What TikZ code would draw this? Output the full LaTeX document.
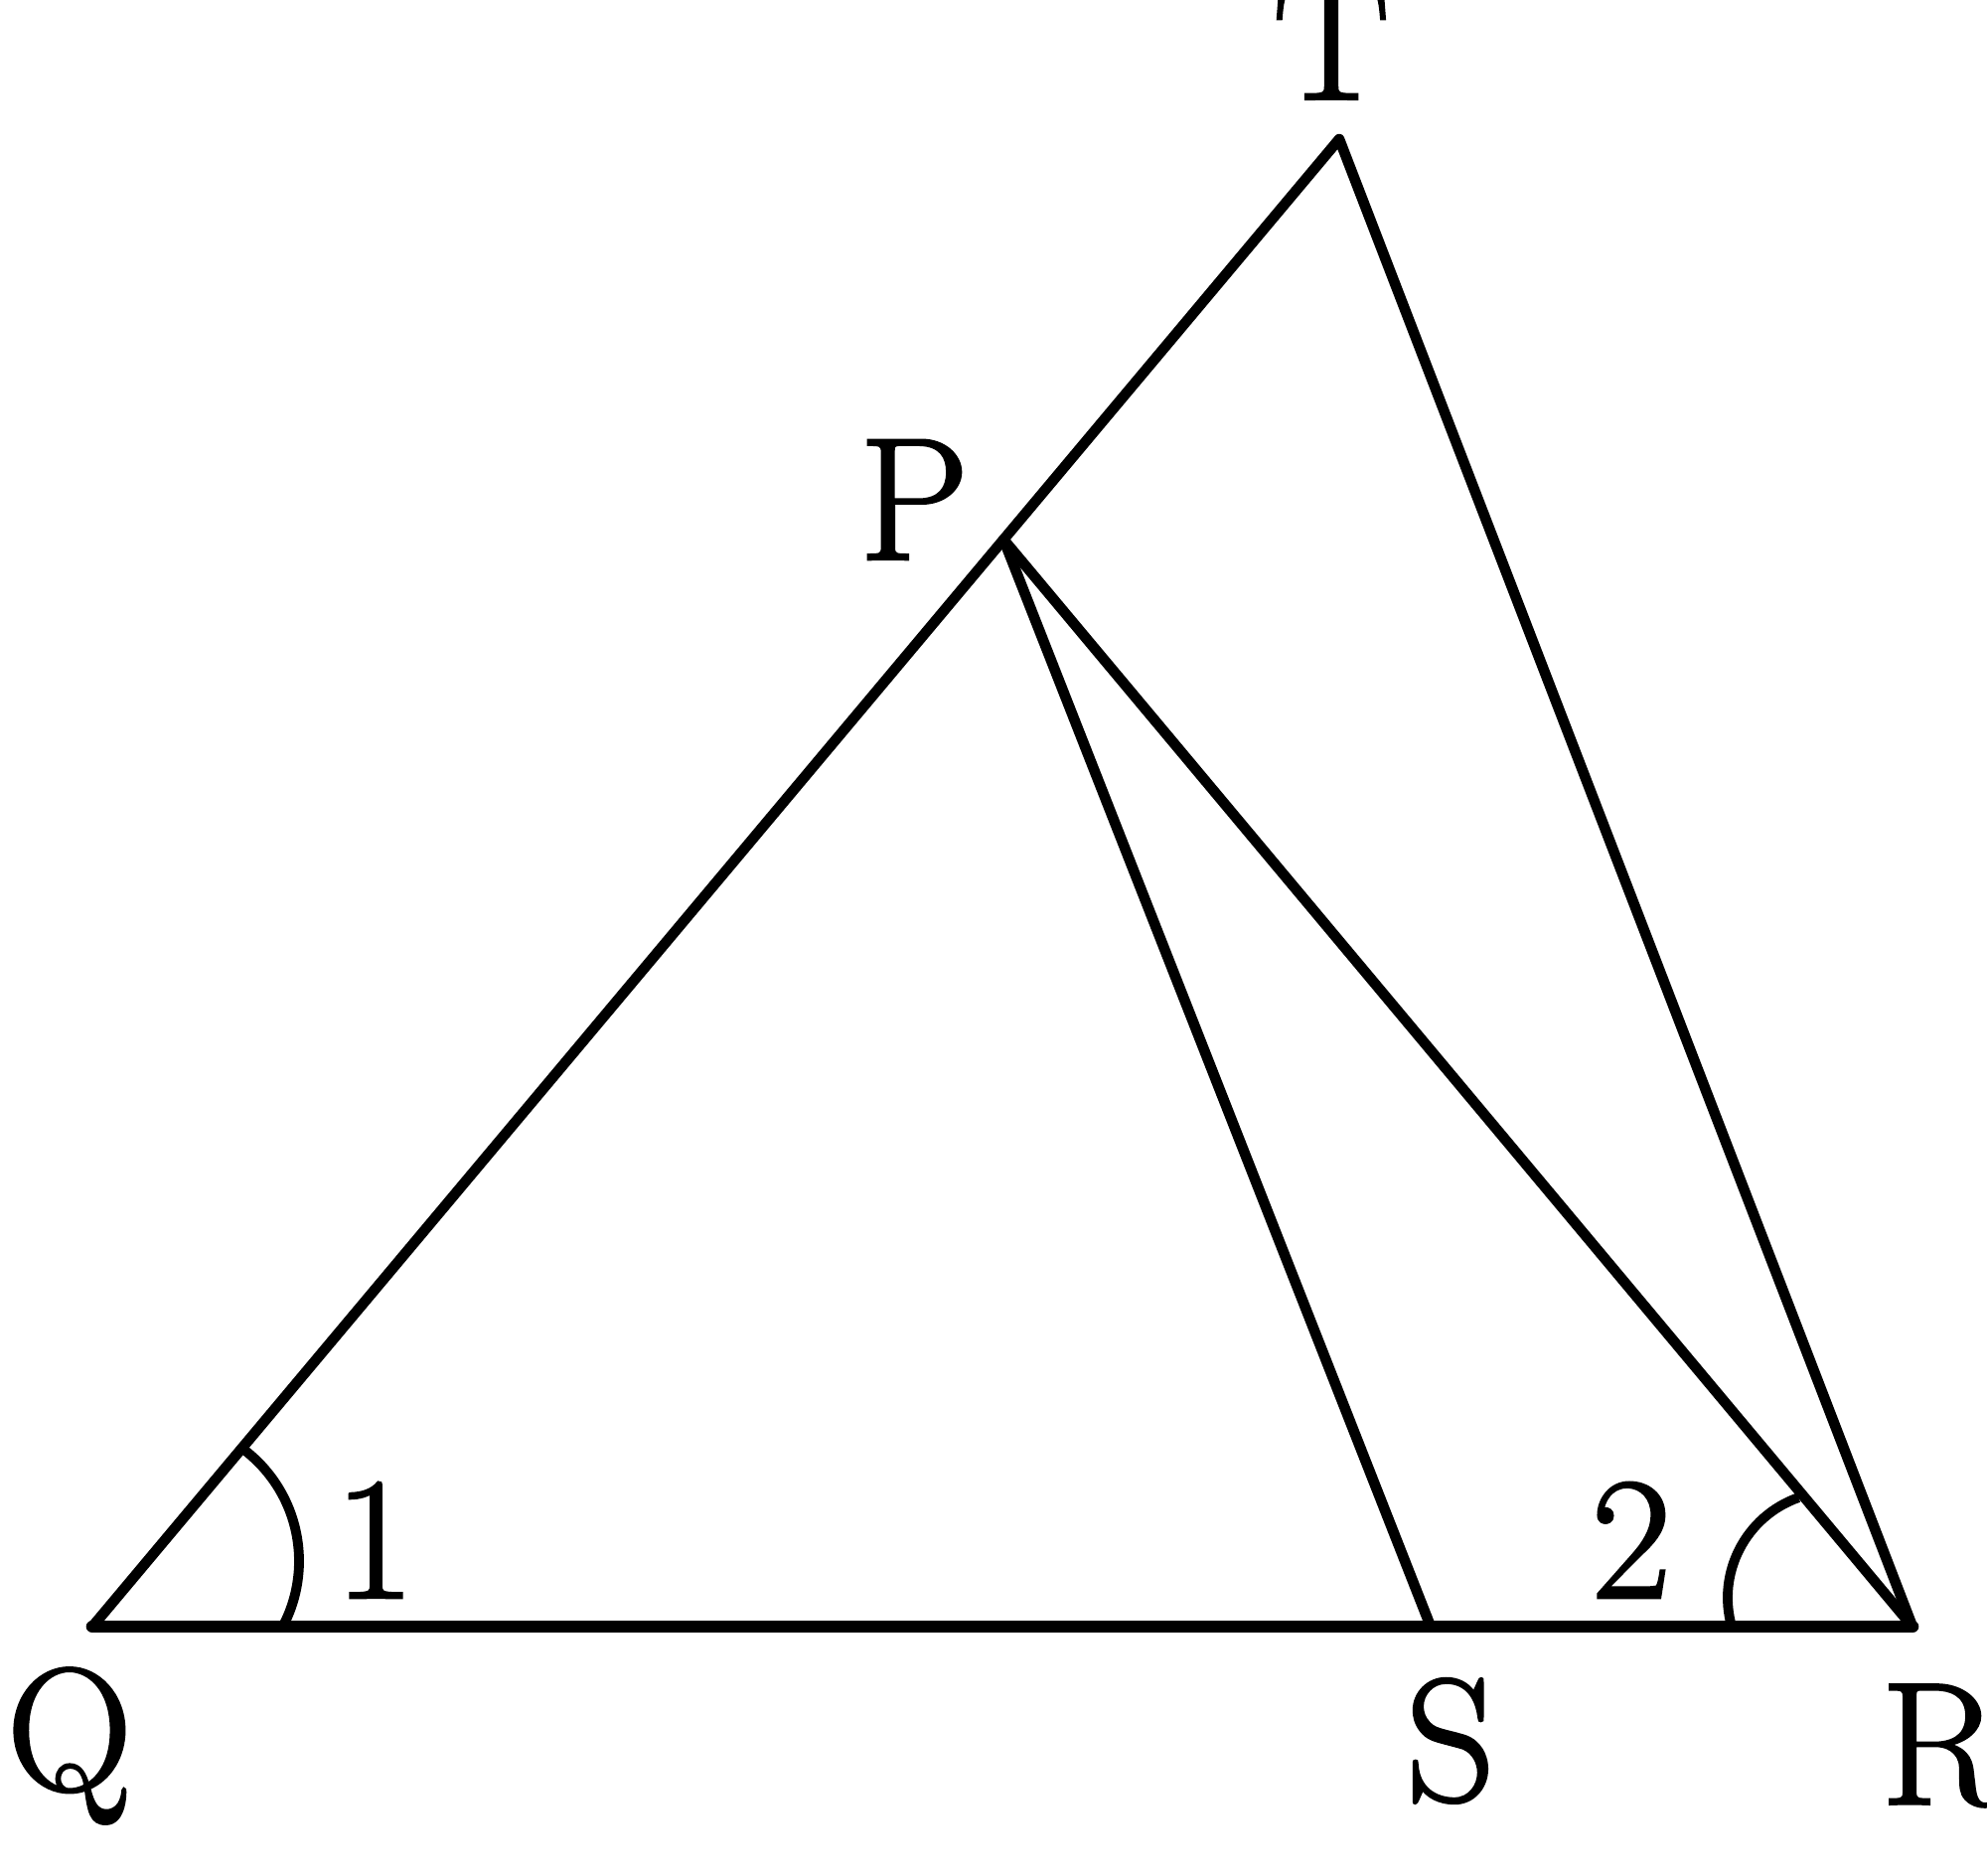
\documentclass[tikz,border=0pt]{standalone}
\usepackage{fontspec}
\newfontfamily\lblfont{Latin Modern Roman}[FakeBold=1.6]
\usetikzlibrary{calc}
\begin{document}
\begin{tikzpicture}[
  seg/.style={line width=3pt, line cap=round, line join=round},
  base/.style={line width=3.6pt, line cap=round},
  anglearc/.style={line width=2.8pt},
  lbl/.style={inner sep=0pt, font=\lblfont\fontsize{50}{60}\selectfont}
]
\useasboundingbox (0,0) rectangle (20,18.88);
\coordinate (Q) at (0.93,2.51);
\coordinate (R) at (19.25,2.51);
\coordinate (S) at (14.40,2.51);
\coordinate (T) at (13.48,17.48);
\coordinate (P) at ($(Q)!0.7308!(T)$);
\coordinate (cQ) at (1.60,3.17);
\coordinate (cR) at (18.46,2.80);

\draw[base] (Q) -- (R);
\draw[seg] (Q) -- (T) -- (R);
\draw[seg] (P) -- (S);
\draw[seg] (P) -- (R);

% angle arcs
\draw[anglearc] ($(cQ)+(51.9:1.41)$) arc[start angle=51.9, end angle=-27.8, radius=1.41];
\draw[anglearc] ($(cR)+(196:1.07)$) arc[start angle=196, end angle=109.5, radius=1.07];

\node[lbl] (l1) at (3.77,3.38) {1};
\node[lbl] (l2) at (16.42,3.38) {2};
\node[lbl] (lQ) at (0.70,1.31) {Q};
\node[lbl] (lS) at (14.60,1.36) {S};
\node[lbl] (lR) at (19.53,1.31) {R};
\node[lbl] (lP) at (9.20,13.85) {P};
\node[lbl] (lT) at (13.40,18.48) {T};
\end{tikzpicture}
\end{document}
